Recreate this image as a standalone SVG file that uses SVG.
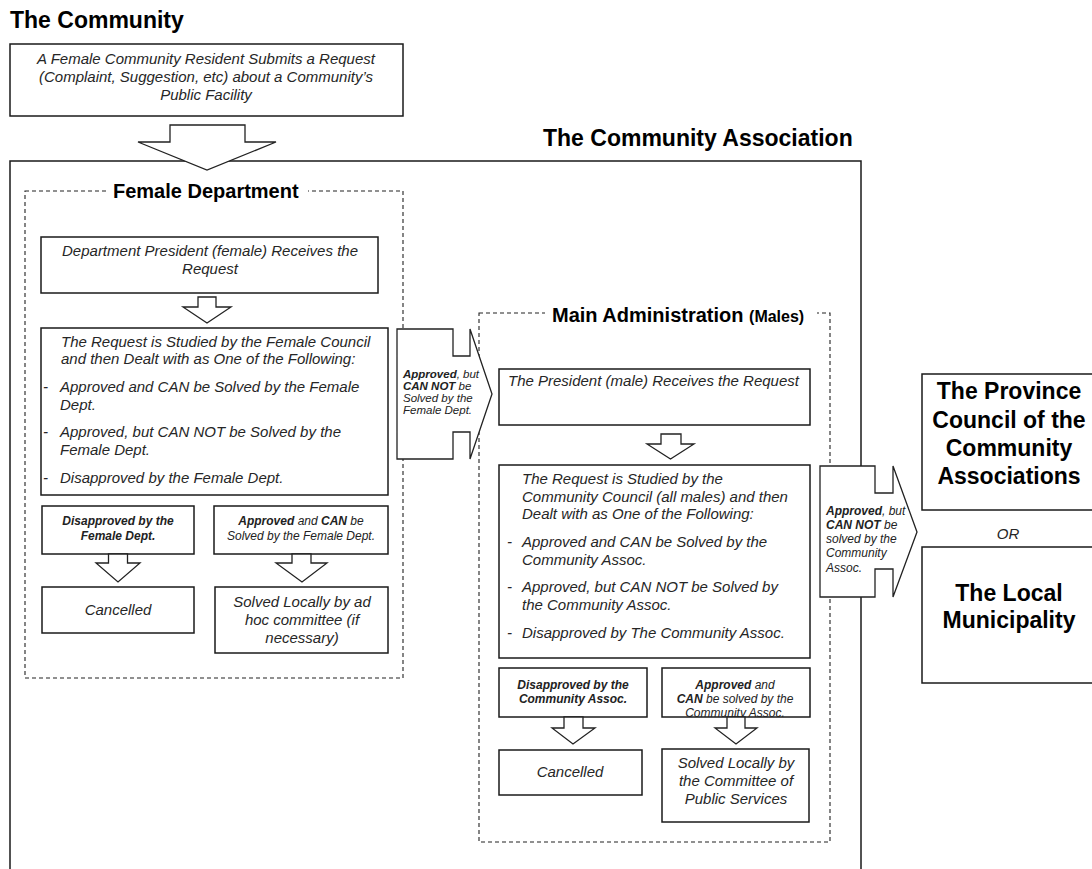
<svg xmlns="http://www.w3.org/2000/svg" width="1092" height="869" viewBox="0 0 1092 869">
  <style>
    .box { fill: #fff; stroke: #1a1a1a; stroke-width: 1.5; }
    .dash { fill: none; stroke: #222; stroke-width: 1.1; stroke-dasharray: 4 3; }
    .blk { fill: #fff; stroke: #222; stroke-width: 1.3; stroke-linejoin: miter; }
    .title { font-family: "Liberation Sans", Arial, sans-serif; font-weight: bold; fill: #000; }
    .it { font-family: "Liberation Sans", Arial, sans-serif; font-style: italic; font-size: 15px; fill: #262626; }
    .sm { font-family: "Liberation Sans", Arial, sans-serif; font-style: italic; font-size: 12px; fill: #222; }
    .tight { font-size: 11.5px; }
    .b { font-weight: bold; }
    .big { font-family: "Liberation Sans", Arial, sans-serif; font-weight: bold; font-size: 23px; fill: #000; }
    .mid { text-anchor: middle; }
  </style>

  <!-- Community side -->
  <g id="community-title">
    <text class="title" x="10" y="28" font-size="23">The Community</text>
  </g>
  <g id="resident-request">
    <rect class="box" x="10" y="44" width="393" height="72"/>
    <text class="it mid" x="206" y="64">A Female Community Resident Submits a Request</text>
    <text class="it mid" x="206" y="82">(Complaint, Suggestion, etc) about a Community’s</text>
    <text class="it mid" x="206" y="100">Public Facility</text>
  </g>

  <!-- Community Association frame -->
  <g id="community-association">
    <rect class="box" x="10" y="161" width="851" height="730"/>
    <text class="title" x="543" y="146" font-size="23">The Community Association</text>
  </g>

  <!-- Female Department -->
  <g id="female-department">
    <rect class="dash" x="25" y="191" width="378" height="487"/>
    <rect x="106" y="182" width="202" height="18" fill="#fff"/>
    <text class="title" x="113" y="198" font-size="20">Female Department</text>
  </g>
  <g id="female-president">
    <rect class="box" x="41" y="237" width="337" height="56"/>
    <text class="it mid" x="210" y="256">Department President (female) Receives the</text>
    <text class="it mid" x="210" y="274">Request</text>
  </g>
  <g id="female-council">
    <rect class="box" x="41" y="328" width="347" height="167"/>
    <text class="it" x="61" y="347">The Request is Studied by the Female Council</text>
    <text class="it" x="61" y="364">and then Dealt with as One of the Following:</text>
    <text class="it" x="43" y="392">-</text>
    <text class="it" x="60" y="392">Approved and CAN be Solved by the Female</text>
    <text class="it" x="60" y="410">Dept.</text>
    <text class="it" x="43" y="437">-</text>
    <text class="it" x="60" y="437">Approved, but CAN NOT be Solved by the</text>
    <text class="it" x="60" y="455">Female Dept.</text>
    <text class="it" x="43" y="483">-</text>
    <text class="it" x="60" y="483">Disapproved by the Female Dept.</text>
  </g>
  <g id="female-disapproved">
    <rect class="box" x="42" y="506" width="152" height="48"/>
    <text class="sm b mid" x="118" y="525">Disapproved by the</text>
    <text class="sm b mid" x="118" y="540">Female Dept.</text>
  </g>
  <g id="female-approved">
    <rect class="box" x="214" y="506" width="174" height="48"/>
    <text class="sm mid" x="301" y="525"><tspan class="b">Approved</tspan> and <tspan class="b">CAN</tspan> be</text>
    <text class="sm mid" x="301" y="540">Solved by the Female Dept.</text>
  </g>
  <g id="female-cancelled">
    <rect class="box" x="42" y="587" width="152" height="46"/>
    <text class="it mid" x="118" y="615">Cancelled</text>
  </g>
  <g id="female-solved">
    <rect class="box" x="215" y="587" width="173" height="66"/>
    <text class="it mid" x="302" y="607">Solved Locally by ad</text>
    <text class="it mid" x="302" y="625">hoc committee (if</text>
    <text class="it mid" x="302" y="643">necessary)</text>
  </g>

  <!-- Main Administration -->
  <g id="main-administration">
    <rect class="dash" x="479" y="313" width="351" height="529"/>
    <rect x="545" y="304" width="272" height="20" fill="#fff"/>
    <text class="title" x="552" y="322" font-size="20">Main Administration <tspan font-size="16">(Males)</tspan></text>
  </g>
  <g id="male-president">
    <rect class="box" x="499" y="369" width="311" height="56"/>
    <text class="it" x="508" y="386">The President (male) Receives the Request</text>
  </g>
  <g id="community-council">
    <rect class="box" x="499" y="465" width="311" height="193"/>
    <text class="it" x="522" y="484">The Request is Studied by the</text>
    <text class="it" x="522" y="502">Community Council (all males) and then</text>
    <text class="it" x="522" y="519">Dealt with as One of the Following:</text>
    <text class="it" x="507" y="547">-</text>
    <text class="it" x="522" y="547">Approved and CAN be Solved by the</text>
    <text class="it" x="522" y="565">Community Assoc.</text>
    <text class="it" x="507" y="592">-</text>
    <text class="it" x="522" y="592">Approved, but CAN NOT be Solved by</text>
    <text class="it" x="522" y="610">the Community Assoc.</text>
    <text class="it" x="507" y="638">-</text>
    <text class="it" x="522" y="638">Disapproved by The Community Assoc.</text>
  </g>
  <g id="assoc-disapproved">
    <rect class="box" x="499" y="668" width="148" height="49"/>
    <text class="sm b mid" x="573" y="689">Disapproved by the</text>
    <text class="sm b mid" x="573" y="703">Community Assoc.</text>
  </g>
  <g id="assoc-approved">
    <rect class="box" x="662" y="668" width="148" height="49"/>
    <text class="sm mid" x="735" y="689"><tspan class="b">Approved</tspan> and</text>
    <text class="sm mid" x="735" y="703"><tspan class="b">CAN</tspan> be solved by the</text>
    <text class="sm mid" x="735" y="717">Community Assoc.</text>
  </g>
  <g id="assoc-cancelled">
    <rect class="box" x="499" y="750" width="143" height="45"/>
    <text class="it mid" x="570" y="777">Cancelled</text>
  </g>
  <g id="assoc-solved">
    <rect class="box" x="662" y="749" width="147" height="73"/>
    <text class="it mid" x="736" y="768">Solved Locally by</text>
    <text class="it mid" x="736" y="786">the Committee of</text>
    <text class="it mid" x="736" y="804">Public Services</text>
  </g>

  <!-- Higher authorities -->
  <g id="province-council">
    <rect class="box" x="922" y="374" width="190" height="136"/>
    <text class="big mid" x="1009" y="399">The Province</text>
    <text class="big mid" x="1009" y="428">Council of the</text>
    <text class="big mid" x="1009" y="456">Community</text>
    <text class="big mid" x="1009" y="484">Associations</text>
  </g>
  <g id="or-label">
    <text class="it mid" x="1008" y="539" font-size="20">OR</text>
  </g>
  <g id="local-municipality">
    <rect class="box" x="922" y="547" width="190" height="136"/>
    <text class="big mid" x="1009" y="601">The Local</text>
    <text class="big mid" x="1009" y="628">Municipality</text>
  </g>

  <!-- Block-arrow connectors -->
  <g id="connectors">
    <polygon class="blk" points="170,125 245,125 245,142 276,142 207,170 138,142 170,142"/>
    <polygon class="blk" points="198,297 216,297 216,307 231,307 207,323 183,307 198,307"/>
    <polygon class="blk" points="108.5,554 127.5,554 127.5,563 140,563 118,582 96,563 108.5,563"/>
    <polygon class="blk" points="292,554 311,554 311,563 327,563 302,582 276,563 292,563"/>
    <polygon class="blk" points="661,434 681,434 681,444 694,444 670.5,459 647,444 661,444"/>
    <polygon class="blk" points="564,717 583,717 583,728 595,728 573,744 552,728 564,728"/>
    <polygon class="blk" points="727,717 745,717 745,728 757,728 736,744 715,728 727,728"/>

    <g id="to-main-administration">
      <polygon class="blk" points="397,329 453,329 453,356 470,356 470,329 492,394 470,459 470,432 453,432 453,459 397,459"/>
      <text class="sm tight" x="403" y="378"><tspan class="b">Approved</tspan>, but</text>
      <text class="sm tight" x="403" y="390"><tspan class="b">CAN NOT</tspan> be</text>
      <text class="sm tight" x="403" y="402">Solved by the</text>
      <text class="sm tight" x="403" y="414">Female Dept.</text>
    </g>
    <g id="to-higher-authorities">
      <polygon class="blk" points="820,466 875,466 875,493 893,493 893,466 917,532 893,597 893,569 875,569 875,597 820,597"/>
      <text class="sm" x="826" y="515"><tspan class="b">Approved</tspan>, but</text>
      <text class="sm" x="826" y="529"><tspan class="b">CAN NOT</tspan> be</text>
      <text class="sm" x="826" y="543">solved by the</text>
      <text class="sm" x="826" y="557">Community</text>
      <text class="sm" x="826" y="572">Assoc.</text>
    </g>
  </g>
</svg>
